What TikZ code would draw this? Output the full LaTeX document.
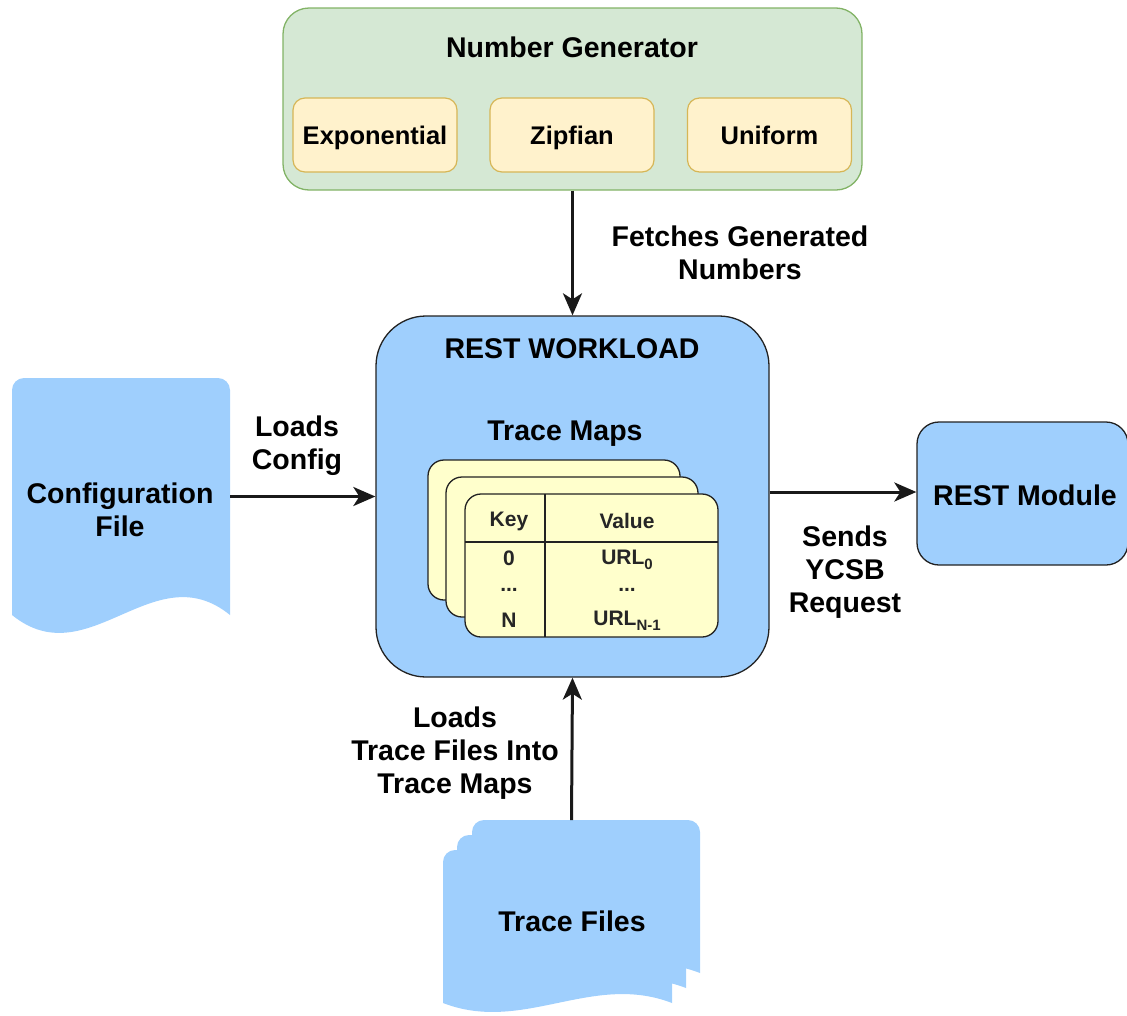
\documentclass[tikz,border=0pt]{standalone}
\usepackage{fontspec}
\setmainfont{Liberation Sans}
\usetikzlibrary{arrows.meta}
\definecolor{ngfill}{HTML}{D5E8D4}
\definecolor{ngdraw}{HTML}{82B366}
\definecolor{disfill}{HTML}{FFF2CC}
\definecolor{disdraw}{HTML}{D6B656}
\definecolor{bluefill}{HTML}{9FCFFD}
\definecolor{cardfill}{HTML}{FFFFCC}
\definecolor{edge}{HTML}{222222}
\tikzset{
  lbl/.style={font=\fontsize{28.5}{33}\selectfont\bfseries, align=center, inner sep=0pt},
  distbox/.style={draw=disdraw, fill=disfill, line width=1.2pt, rounded corners=12pt,
    minimum width=164pt, minimum height=74pt, font=\fontsize{25.5}{28}\selectfont\bfseries,
    inner sep=0pt, text height=18pt, text depth=0pt},
  bluebox/.style={draw=edge, fill=bluefill, line width=1.3pt},
  card/.style={draw=edge, fill=cardfill, line width=1.3pt, rounded corners=16pt},
  tbl/.style={font=\fontsize{21}{24}\selectfont\bfseries, inner sep=0pt, text=black!85},
  arr/.style={draw=black!90, line width=3pt, -{Stealth[length=22pt,width=19pt,inset=6pt]}},
  ghost/.style={inner sep=0pt, outer sep=0pt},
}
\newcommand{\docpath}[5]{% x y w h k
  \fill[bluefill] (#1,#2+#4) -- (#1,#2+12) arc[start angle=180,end angle=270,radius=12]
   -- (#1+#3-12,#2) arc[start angle=270,end angle=360,radius=12] -- (#1+#3,#2+#4)
   .. controls (#1+0.65*#3,#2+#4-#5) and (#1+0.35*#3,#2+#4+#5) .. (#1,#2+#4) -- cycle;}
\begin{document}
\begin{tikzpicture}[x=1pt,y=-1pt]
\useasboundingbox (0,0) rectangle (1127,1015);

% Number generator
\node[draw=ngdraw, fill=ngfill, line width=1.3pt, rounded corners=26pt,
  minimum width=579pt, minimum height=182pt, inner sep=0pt] (ng) at (572.5,99) {};
\node[lbl] (ngt) at (572,47) {Number Generator};
\node[distbox] (exp) at (375,135) {Exponential};
\node[distbox] (zip) at (572,135) {Zipfian};
\node[distbox] (uni) at (769.5,135) {Uniform};

% REST workload
\node[bluebox, rounded corners=50pt, minimum width=393pt, minimum height=361pt, inner sep=0pt] (rw) at (572.5,496.5) {};
\node[lbl] (rwt) at (572,349) {REST WORKLOAD};
\node[lbl] (tmt) at (565,434) {Trace Maps};

% trace map cards
\draw[card] (428,460) rectangle (680,600);
\draw[card] (446,477) rectangle (698,617);
\draw[card] (465,494) rectangle (718,637);
\node[ghost] (card3) at (591.5,565.5) {};
\draw[draw=edge, line width=1.3pt] (545,494) -- (545,637);
\draw[draw=edge, line width=1.3pt] (465,542) -- (718,542);
\node[tbl] (k0) at (509,521) {Key};
\node[tbl] (v0) at (627,521) {Value};
\node[tbl] (k1) at (509,558) {0};
\node[tbl] (k2) at (509,590) {...};
\node[tbl] (k3) at (509,620) {N};
\node[tbl] (v1) at (627,560) {URL\raisebox{-5pt}{\fontsize{15}{15}\selectfont 0}};
\node[tbl] (v2) at (627,590) {...};
\node[tbl] (v3) at (627,621) {URL\raisebox{-5pt}{\fontsize{15}{15}\selectfont N-1}};

% Configuration file
\docpath{12}{378}{218}{615-378}{62}
\node[ghost, minimum width=218pt, minimum height=237pt] (cfg) at (121,496.5) {};
\node[lbl] (cfgt) at (120,510) {Configuration\\File};

% REST module
\node[bluebox, rounded corners=22pt, minimum width=211pt, minimum height=143pt, inner sep=0pt] (rm) at (1022.5,493.5) {};
\node[lbl] (rmt) at (1025,495) {REST Module};

% Trace files
\docpath{472}{820}{228}{153}{31}
\docpath{457}{835}{229}{153}{31}
\docpath{443}{850}{229}{153}{31}
\node[ghost, minimum width=257pt, minimum height=183pt] (tf) at (571.5,911.5) {};
\node[lbl] (tft) at (572,921) {Trace Files};

% connectors
\draw[arr] (ng.south) -- (rw.north);
\draw[arr] (cfg.east) -- (rw.west);
\draw[arr] (rw.east |- 0,492) -- (rm.west |- 0,492);
\draw[arr] (tf.north) -- (rw.south);

% labels
\node[lbl] (l1) at (740,253) {Fetches Generated\\Numbers};
\node[lbl] (l2) at (297,446) {Loads\\Config};
\node[lbl] (l3) at (845,572) {Sends\\YCSB\\Request};
\node[lbl] (l4) at (455,753) {Loads\\Trace Files Into\\Trace Maps};
\end{tikzpicture}
\end{document}
